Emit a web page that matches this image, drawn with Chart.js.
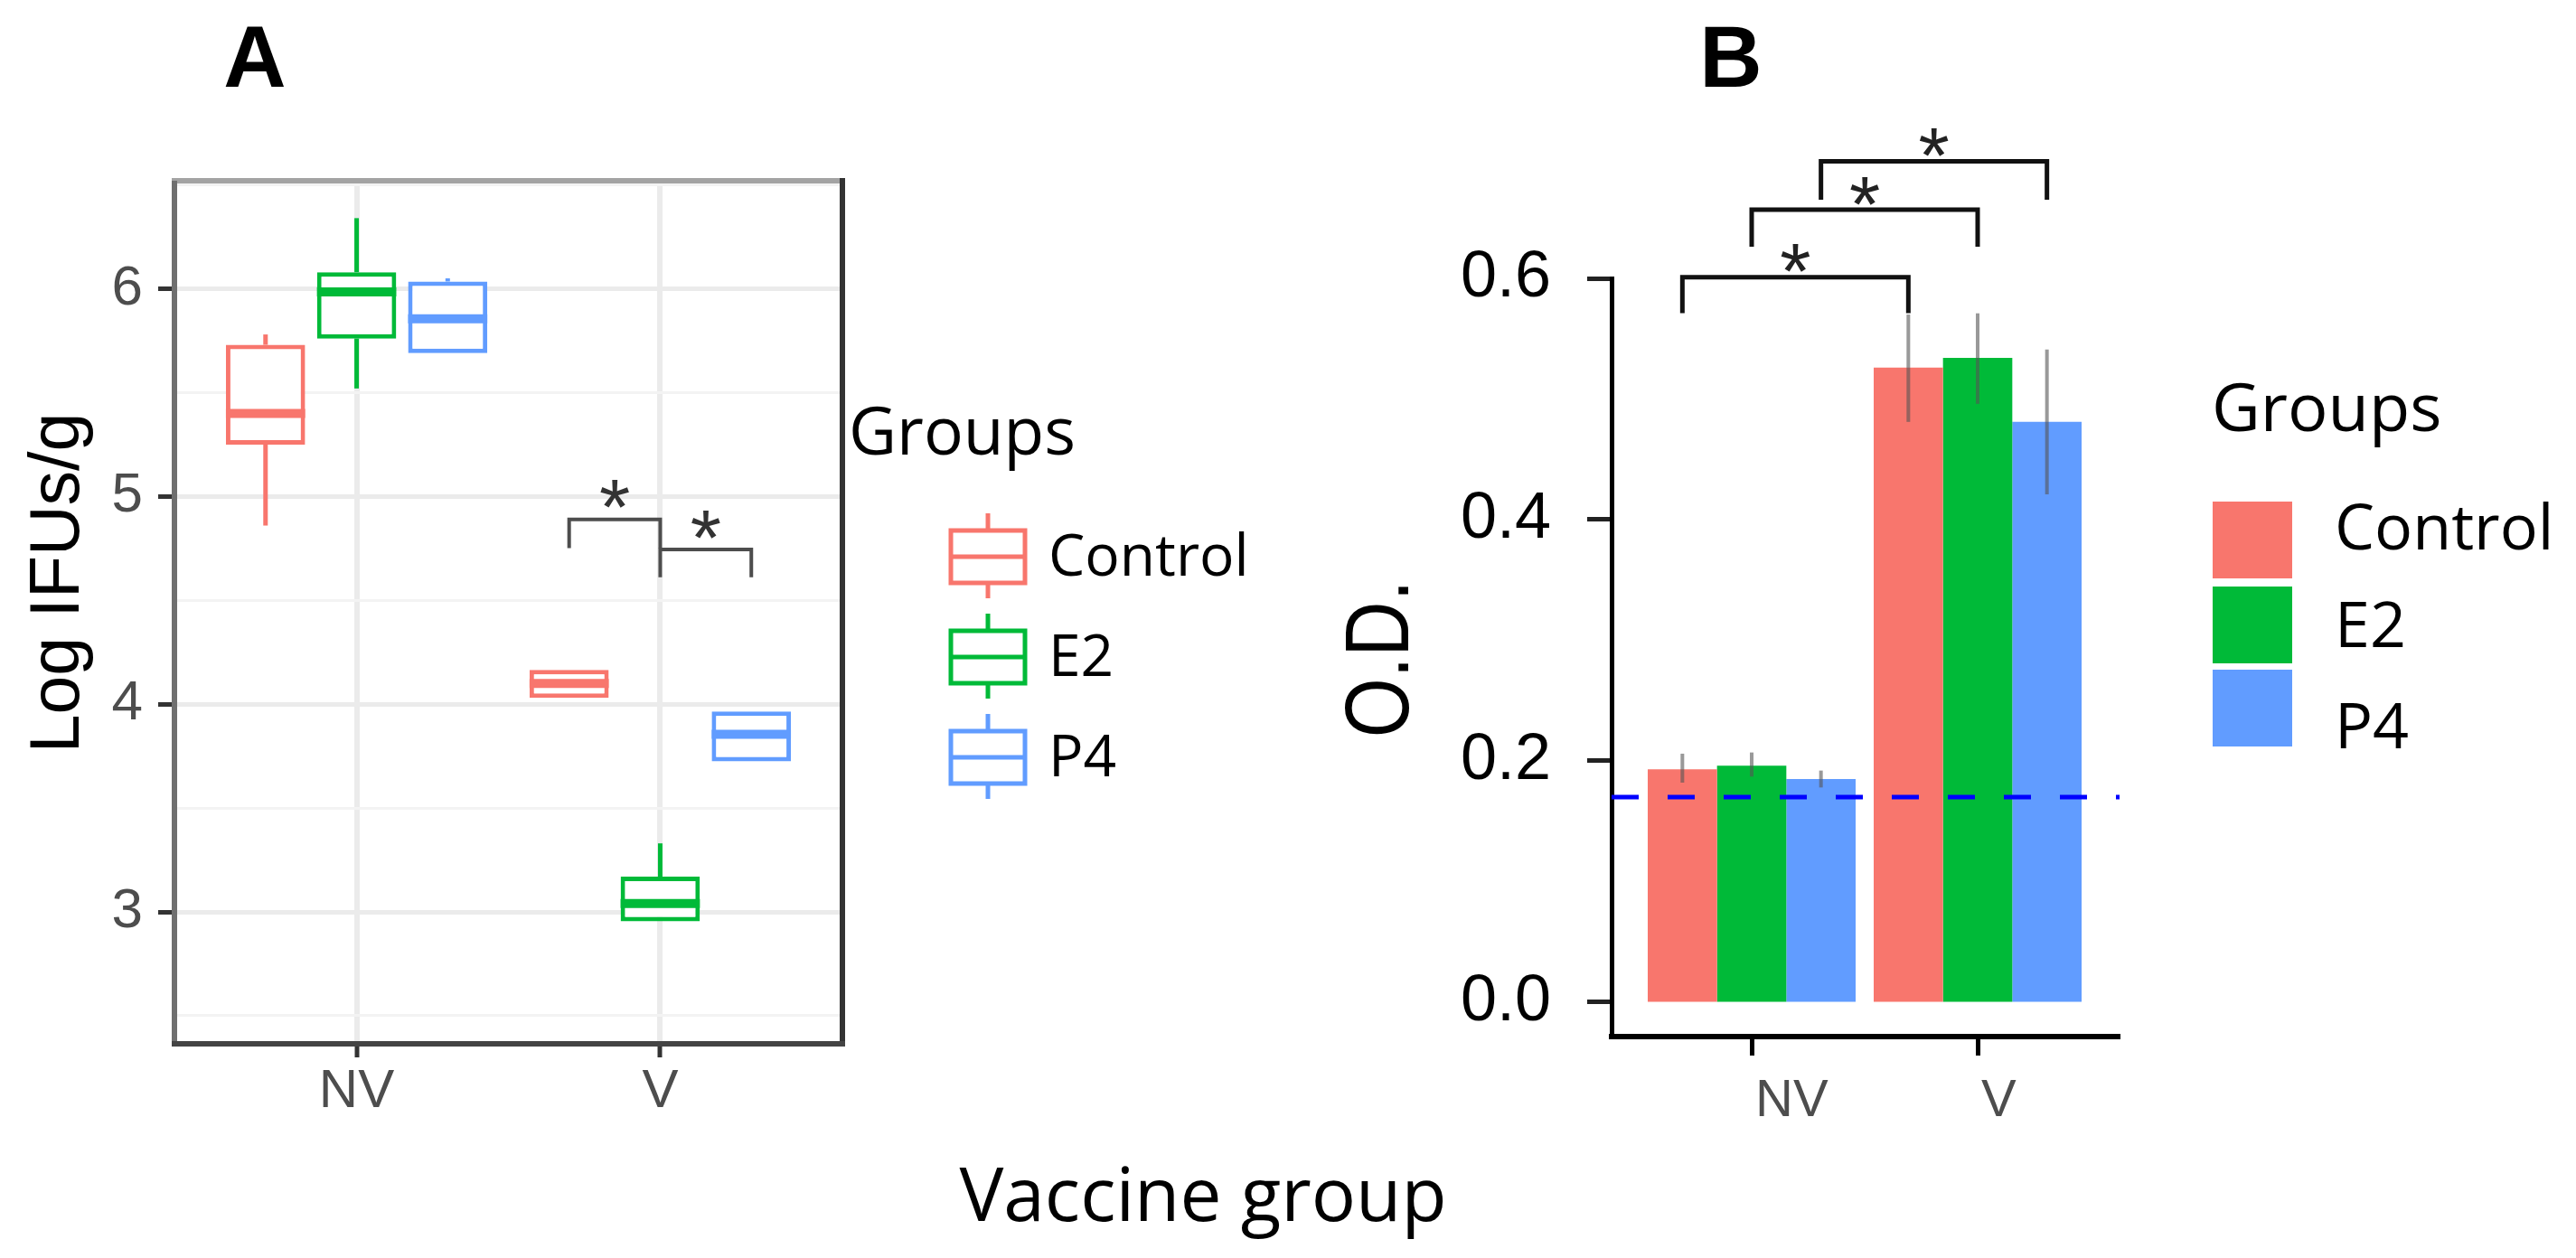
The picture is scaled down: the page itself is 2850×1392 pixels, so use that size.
<!DOCTYPE html>
<html>
<head>
<meta charset="utf-8">
<script src="https://cdn.jsdelivr.net/npm/chart.js@4.4.1/dist/chart.umd.min.js"></script>
<style>
  html, body { margin: 0; padding: 0; background: #ffffff; width: 2850px; height: 1392px; overflow: hidden; }
  #wrapA { position: absolute; left: 0; top: 0; width: 1450px; height: 1392px; }
  #wrapB { position: absolute; left: 1450px; top: 0; width: 1400px; height: 1392px; }
  .letter { position: absolute; top: 15px; width: 200px; text-align: center; font: bold 96px/96px "Liberation Sans", Arial, sans-serif; color: #000; }
  #xtitle { position: absolute; left: 931px; top: 1278px; width: 800px; text-align: center; font: 82px/82px "Open Sans", sans-serif; color: #000; }
</style>
</head>
<body>
<div id="wrapA"><canvas id="cA" width="1450" height="1392"></canvas></div>
<div id="wrapB"><canvas id="cB" width="1400" height="1392"></canvas></div>
<div class="letter" style="left:182px">A</div>
<div class="letter" style="left:1815px">B</div>
<div id="xtitle">Vaccine group</div>
<script>
// ---------------- data ----------------
const categories = ['NV', 'V'];
const groups = ['Control', 'E2', 'P4'];
const groupColors = ['#F8766D', '#00BA38', '#619CFF'];

// Panel A: [lower whisker, Q1, median, Q3, upper whisker] for NV and V
const boxControl = [[4.86, 5.25, 5.40, 5.73, 5.78], [4.03, 4.03, 4.10, 4.165, 4.165]];
const boxE2      = [[5.52, 5.76, 5.985, 6.08, 6.34], [2.955, 2.955, 3.04, 3.17, 3.33]];
const boxP4      = [[5.69, 5.69, 5.855, 6.035, 6.05], [3.725, 3.725, 3.855, 3.965, 3.965]];
const ticksA = [3, 4, 5, 6];
const minorTicksA = [2.5, 3.5, 4.5, 5.5, 6.5];
const sigA = [
  { cat: 1, from: 0, to: 1, y: 4.89, tip: 4.76, label: '*' },
  { cat: 1, from: 1, to: 2, y: 4.745, tip: 4.62, label: '*' }
];

// Panel B: mean O.D. and error-bar ends for NV and V
const odControl = [0.193, 0.526];
const odE2      = [0.196, 0.534];
const odP4      = [0.185, 0.481];
const errLowControl  = [0.182, 0.481];
const errHighControl = [0.206, 0.570];
const errLowE2  = [0.187, 0.496];
const errHighE2 = [0.207, 0.571];
const errLowP4  = [0.178, 0.421];
const errHighP4 = [0.192, 0.541];
const cutoffOD = 0.17;
const ticksB = [0, 0.2, 0.4, 0.6];
const sigB = [
  { fromCat: 0, toCat: 1, grp: 0, y: 0.601, tip: 0.573, label: '*' },
  { fromCat: 0, toCat: 1, grp: 1, y: 0.657, tip: 0.628, label: '*' },
  { fromCat: 0, toCat: 1, grp: 2, y: 0.697, tip: 0.667, label: '*' }
];

// ---------------- helpers ----------------
const boxStats = [boxControl, boxE2, boxP4];
const odMeans = [odControl, odE2, odP4];
const errLows = [errLowControl, errLowE2, errLowP4];
const errHighs = [errHighControl, errHighE2, errHighP4];
const SANS = '"Liberation Sans", Arial, sans-serif';
const OPEN = '"Open Sans", sans-serif';

function seg(ctx, x1, y1, x2, y2) {
  ctx.beginPath(); ctx.moveTo(x1, y1); ctx.lineTo(x2, y2); ctx.stroke();
}
function star(ctx, x, lineY, size, offset, color) {
  ctx.save();
  ctx.font = size + 'px ' + SANS;
  ctx.fillStyle = color;
  ctx.textAlign = 'center';
  ctx.textBaseline = 'alphabetic';
  ctx.fillText('*', x, lineY - offset + 0.575 * size);
  ctx.restore();
}

// ---------------- Panel A ----------------
const plugA = {
  id: 'plugA',
  afterDatasetsDraw(chart) {
    const ctx = chart.ctx, ys = chart.scales.y, a = chart.chartArea;
    boxStats.forEach((stats, i) => {
      const meta = chart.getDatasetMeta(i);
      meta.data.forEach((bar, j) => {
        const s = stats[j];
        const half = bar.width / 2;
        ctx.save();
        ctx.strokeStyle = groupColors[i];
        ctx.lineCap = 'butt';
        ctx.lineWidth = 5;
        seg(ctx, bar.x, ys.getPixelForValue(s[3]), bar.x, ys.getPixelForValue(s[4]));
        seg(ctx, bar.x, ys.getPixelForValue(s[1]), bar.x, ys.getPixelForValue(s[0]));
        ctx.lineWidth = 10;
        const ym = ys.getPixelForValue(s[2]);
        seg(ctx, bar.x - half, ym, bar.x + half, ym);
        ctx.restore();
      });
    });
    ctx.save();
    ctx.lineWidth = 6;
    ctx.strokeStyle = '#a3a3a3'; seg(ctx, a.left - 3, a.top, a.right + 3, a.top);
    ctx.strokeStyle = '#6f6f6f'; seg(ctx, a.left, a.top, a.left, a.bottom);
    ctx.strokeStyle = '#333333'; seg(ctx, a.right, a.top - 3, a.right, a.bottom + 3);
    ctx.strokeStyle = '#444444'; seg(ctx, a.left - 3, a.bottom, a.right + 3, a.bottom);
    ctx.restore();
    sigA.forEach(b => {
      const x1 = chart.getDatasetMeta(b.from).data[b.cat].x;
      const x2 = chart.getDatasetMeta(b.to).data[b.cat].x;
      const y = ys.getPixelForValue(b.y), yt = ys.getPixelForValue(b.tip);
      ctx.save();
      ctx.strokeStyle = '#4d4d4d'; ctx.lineWidth = 4; ctx.lineCap = 'square';
      ctx.beginPath(); ctx.moveTo(x1, yt); ctx.lineTo(x1, y); ctx.lineTo(x2, y); ctx.lineTo(x2, yt); ctx.stroke();
      ctx.restore();
      star(ctx, (x1 + x2) / 2, y, 88, 34, '#333333');
    });
  },
  afterDraw(chart) {
    const ctx = chart.ctx;
    ctx.save();
    ctx.translate(87, 645); ctx.rotate(-Math.PI / 2);
    ctx.font = '77px ' + SANS; ctx.fillStyle = '#000';
    ctx.textAlign = 'center'; ctx.textBaseline = 'alphabetic';
    ctx.fillText('Log IFUs/g', 0, 0);
    ctx.restore();
    ctx.save();
    ctx.font = '73px ' + OPEN; ctx.fillStyle = '#000';
    ctx.textAlign = 'left'; ctx.textBaseline = 'alphabetic';
    ctx.fillText('Groups', 939, 503);
    const centers = [616, 727, 838];
    groups.forEach((g, i) => {
      const c = centers[i];
      ctx.strokeStyle = groupColors[i]; ctx.lineWidth = 5;
      ctx.strokeRect(1052, c - 29, 82, 58);
      seg(ctx, 1093, c - 48, 1093, c - 29);
      seg(ctx, 1093, c + 29, 1093, c + 46);
      seg(ctx, 1052, c, 1134, c);
      ctx.font = '64px ' + OPEN; ctx.fillStyle = '#000';
      ctx.fillText(g, 1160, c + 21);
    });
    ctx.restore();
  }
};

new Chart(document.getElementById('cA'), {
  type: 'bar',
  data: {
    datasets: groups.map((g, i) => ({
      label: g,
      data: categories.map((c, j) => ({ x: j + 1, y: [boxStats[i][j][1], boxStats[i][j][3]] })),
      backgroundColor: '#ffffff',
      borderColor: groupColors[i],
      borderWidth: 5,
      borderSkipped: false,
      categoryPercentage: 0.9,
      barPercentage: 0.87
    }))
  },
  options: {
    responsive: false, animation: false, devicePixelRatio: 1,
    layout: { padding: { left: 0, top: 200, right: 518, bottom: 0 } },
    plugins: { legend: { display: false }, tooltip: { enabled: false } },
    scales: {
      x: {
        type: 'linear', min: 0.4, max: 2.6, offset: false,
        afterBuildTicks: s => { s.ticks = categories.map((c, i) => ({ value: i + 1 })); },
        afterFit: s => { s.height = 237; },
        ticks: { autoSkip: false, maxRotation: 0, padding: 2, color: '#4d4d4d',
                 font: { family: SANS, size: 60 },
                 callback: v => categories[Math.round(v) - 1] || '' },
        grid: { offset: false, color: '#ebebeb', lineWidth: 6, tickColor: '#333333', tickLength: 15, tickWidth: 5 },
        border: { display: false }
      },
      y: {
        type: 'linear', min: 2.365, max: 6.52,
        afterBuildTicks: s => {
          s.ticks = ticksA.concat(minorTicksA).sort((p, q) => p - q).map(v => ({ value: v }));
        },
        afterFit: s => { s.width = 193; },
        ticks: { autoSkip: false, padding: 17, color: '#4d4d4d',
                 font: { family: SANS, size: 62 },
                 callback: v => ticksA.includes(v) ? String(v) : '' },
        grid: {
          color: c => ticksA.includes(c.tick.value) ? '#ebebeb' : '#f3f3f3',
          lineWidth: c => ticksA.includes(c.tick.value) ? 5 : 3,
          tickColor: c => ticksA.includes(c.tick.value) ? '#333333' : 'rgba(0,0,0,0)',
          tickLength: 18, tickWidth: 5
        },
        border: { display: false }
      }
    }
  },
  plugins: [plugA]
});

// ---------------- Panel B ----------------
const plugB = {
  id: 'plugB',
  afterDatasetsDraw(chart) {
    const ctx = chart.ctx, ys = chart.scales.y, a = chart.chartArea;
    groups.forEach((g, i) => {
      chart.getDatasetMeta(i).data.forEach((bar, j) => {
        ctx.save();
        ctx.strokeStyle = 'rgba(85,85,85,0.6)'; ctx.lineWidth = 4;
        seg(ctx, bar.x, ys.getPixelForValue(errHighs[i][j]), bar.x, ys.getPixelForValue(errLows[i][j]));
        ctx.restore();
      });
    });
    ctx.save();
    ctx.strokeStyle = '#0000ff'; ctx.lineWidth = 5; ctx.setLineDash([30, 32]);
    const yc = ys.getPixelForValue(cutoffOD);
    seg(ctx, a.left, yc, a.right, yc);
    ctx.restore();
    sigB.forEach(b => {
      const x1 = chart.getDatasetMeta(b.grp).data[b.fromCat].x;
      const x2 = chart.getDatasetMeta(b.grp).data[b.toCat].x;
      const y = ys.getPixelForValue(b.y), yt = ys.getPixelForValue(b.tip);
      ctx.save();
      ctx.strokeStyle = '#111111'; ctx.lineWidth = 5; ctx.lineCap = 'square';
      ctx.beginPath(); ctx.moveTo(x1, yt); ctx.lineTo(x1, y); ctx.lineTo(x2, y); ctx.lineTo(x2, yt); ctx.stroke();
      ctx.restore();
      star(ctx, (x1 + x2) / 2, y, 88, 27, '#222222');
    });
  },
  afterDraw(chart) {
    const ctx = chart.ctx;
    ctx.save();
    ctx.translate(108, 729); ctx.rotate(-Math.PI / 2); ctx.scale(0.85, 1);
    ctx.font = '100px ' + SANS; ctx.fillStyle = '#000';
    ctx.textAlign = 'center'; ctx.textBaseline = 'alphabetic';
    ctx.fillText('O.D.', 0, 0);
    ctx.restore();
    ctx.save();
    ctx.font = '74px ' + OPEN; ctx.fillStyle = '#000';
    ctx.textAlign = 'left'; ctx.textBaseline = 'alphabetic';
    ctx.fillText('Groups', 997, 477);
    const keyTops = [555, 649, 741];
    const textBase = [608, 716, 828];
    groups.forEach((g, i) => {
      ctx.fillStyle = groupColors[i];
      ctx.fillRect(998, keyTops[i], 88, 85);
      ctx.fillStyle = '#000';
      ctx.font = '70px ' + OPEN;
      ctx.fillText(g, 1133, textBase[i]);
    });
    ctx.restore();
  }
};

new Chart(document.getElementById('cB'), {
  type: 'bar',
  data: {
    datasets: groups.map((g, i) => ({
      label: g,
      data: categories.map((c, j) => ({ x: j + 1, y: odMeans[i][j] })),
      backgroundColor: groupColors[i],
      borderWidth: 0,
      categoryPercentage: 0.92,
      barPercentage: 1.0
    }))
  },
  options: {
    responsive: false, animation: false, devicePixelRatio: 1,
    layout: { padding: { left: 0, top: 308, right: 505, bottom: 0 } },
    plugins: { legend: { display: false }, tooltip: { enabled: false } },
    scales: {
      x: {
        type: 'linear', min: 0.38, max: 2.628, offset: false,
        afterBuildTicks: s => { s.ticks = categories.map((c, i) => ({ value: i + 1 })); },
        afterFit: s => { s.height = 245; },
        ticks: { autoSkip: false, maxRotation: 0, align: 'start', labelOffset: 4, padding: 16,
                 color: '#4d4d4d', font: { family: SANS, size: 58 },
                 callback: v => categories[Math.round(v) - 1] || '' },
        grid: { offset: false, drawOnChartArea: false, tickColor: '#000000', tickLength: 21, tickWidth: 5 },
        border: { display: true, color: '#000000', width: 6 }
      },
      y: {
        type: 'linear', min: -0.0285, max: 0.6,
        afterBuildTicks: s => { s.ticks = ticksB.map(v => ({ value: v })); },
        afterFit: s => { s.width = 333; },
        ticks: { autoSkip: false, padding: 40, color: '#000000',
                 font: { family: SANS, size: 72 },
                 callback: v => v.toFixed(1) },
        grid: { drawOnChartArea: false, tickColor: '#222222', tickLength: 27, tickWidth: 5 },
        border: { display: true, color: '#000000', width: 5 }
      }
    }
  },
  plugins: [plugB]
});
</script>
</body>
</html>
